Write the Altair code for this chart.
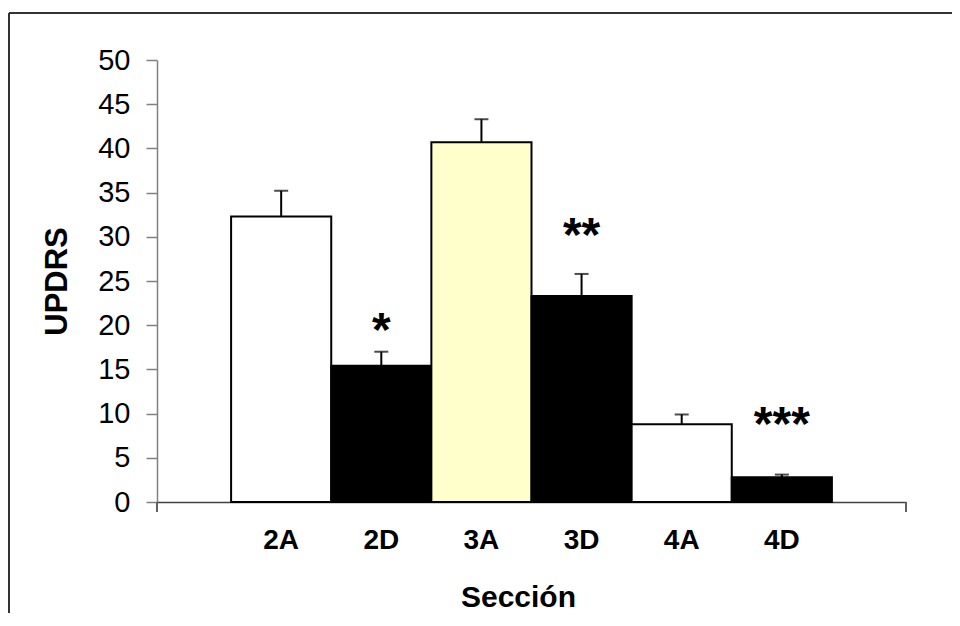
import altair as alt
import pandas as pd

# ---- data ----
secciones = ["2A", "2D", "3A", "3D", "4A", "4D"]
updrs = [32.3, 15.4, 40.7, 23.3, 8.8, 2.8]
error_sup = [35.2, 17.0, 43.3, 25.8, 9.9, 3.1]
relleno = ["#FFFFFF", "#000000", "#FFFFCC", "#000000", "#FFFFFF", "#000000"]
marca_sec = ["2D", "3D", "4D"]
marca_txt = ["*", "**", "***"]
marca_y = [17.6, 28.4, 7.0]
y_ticks = [0, 5, 10, 15, 20, 25, 30, 35, 40, 45, 50]

df = pd.DataFrame({"seccion": secciones, "updrs": updrs, "sup": error_sup, "fill": relleno})
df_m = pd.DataFrame({"seccion": marca_sec, "txt": marca_txt, "y": marca_y})

W, H = 749, 442
FONT = "Liberation Sans"

x_enc = alt.X(
    "seccion:N", sort=secciones,
    scale=alt.Scale(paddingInner=0, paddingOuter=0.74),
    axis=alt.Axis(
        title="Sección", ticks=False, labelAngle=0,
        labelFont=FONT, labelFontSize=28, labelFontWeight="bold", labelColor="black",
        labelPadding=24, domainColor="#404040", domainWidth=1.5,
        titleFont=FONT, titleFontSize=30, titleFontWeight="bold", titleColor="black",
        titlePadding=28, titleX=361,
    ),
)
y_enc = alt.Y(
    "updrs:Q",
    scale=alt.Scale(domain=[0, 50], nice=False, zero=True),
    axis=alt.Axis(
        title="UPDRS", values=y_ticks, grid=False,
        labelFont=FONT, labelFontSize=29, labelColor="black", labelPadding=16,
        tickSize=11, tickColor="#808080", tickWidth=1.5,
        domainColor="#808080", domainWidth=1.5,
        titleFont=FONT, titleFontSize=31, titleFontWeight="bold", titleColor="black",
        titlePadding=24,
    ),
)

bars = alt.Chart(df).mark_bar(stroke="black", strokeWidth=2).encode(
    x=x_enc, y=y_enc, fill=alt.Fill("fill:N", scale=None)
)
err = alt.Chart(df).mark_rule(color="black", strokeWidth=2).encode(
    x=alt.X("seccion:N", sort=secciones), y="updrs:Q", y2="sup:Q"
)
cap = alt.Chart(df).mark_tick(color="black", thickness=2, size=14).encode(
    x=alt.X("seccion:N", sort=secciones), y="sup:Q"
)
txt = alt.Chart(df_m).mark_text(
    font=FONT, fontSize=48, fontWeight="bold", color="black", baseline="alphabetic"
).encode(x=alt.X("seccion:N", sort=secciones), y=alt.Y("y:Q"), text="txt:N")

frame_top = alt.Chart(df).mark_rule(color="#333333", strokeWidth=2).encode(
    x=alt.value(-148), x2=alt.value(800), y=alt.value(-47)
)
frame_left = alt.Chart(df).mark_rule(color="#333333", strokeWidth=2).encode(
    x=alt.value(-148), y=alt.value(-47), y2=alt.value(600)
)
end_l = alt.Chart(df).mark_rule(color="#606060", strokeWidth=1.5).encode(
    x=alt.value(0), y=alt.value(H), y2=alt.value(H + 10)
)
end_r = alt.Chart(df).mark_rule(color="#606060", strokeWidth=1.5).encode(
    x=alt.value(W), y=alt.value(H), y2=alt.value(H + 10)
)

chart = alt.layer(bars, err, cap, txt, frame_top, frame_left, end_l, end_r).properties(
    width=W, height=H,
    padding={"left": 149, "top": 52, "right": 46, "bottom": 111},
    autosize=alt.AutoSizeParams(type="none"),
    background="white",
).configure_view(stroke=None)

chart.save("out.html", embed_options={"renderer": "svg", "actions": False})
